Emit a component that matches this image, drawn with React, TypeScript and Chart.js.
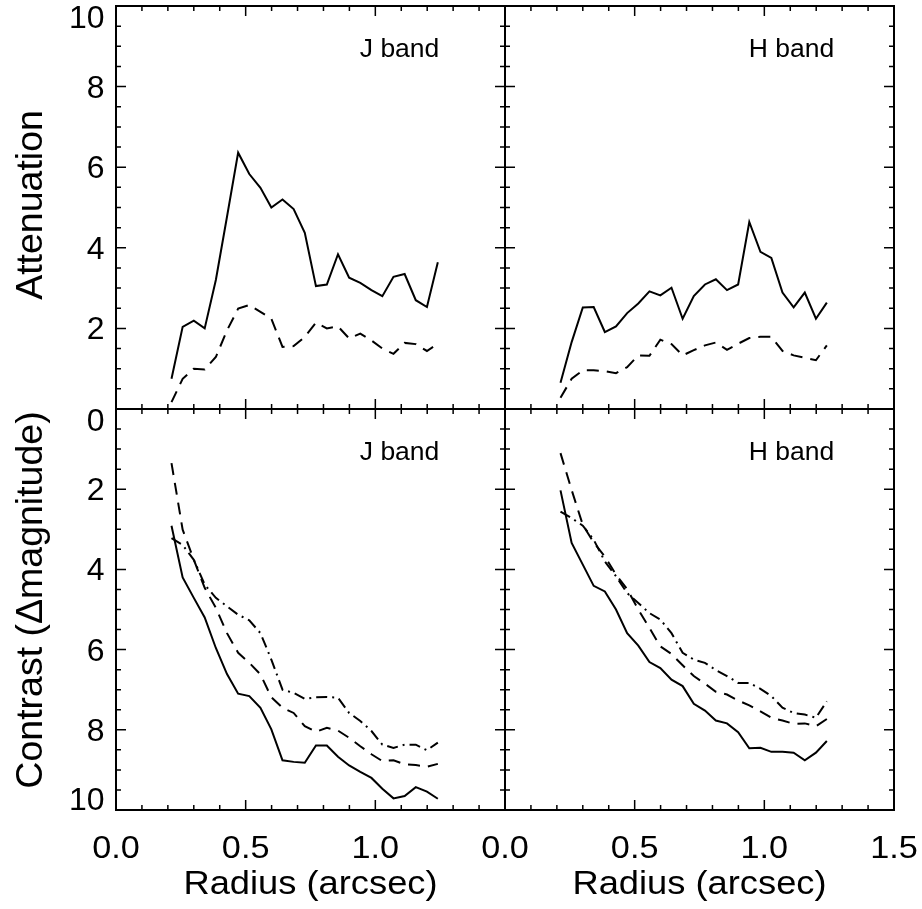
import React, { useEffect, useRef } from 'react';
import { Chart, registerables } from 'chart.js';

Chart.register(...registerables);

// ---------- data ----------
const radius = [0.214, 0.257, 0.300, 0.342, 0.385, 0.428, 0.471, 0.514, 0.557, 0.599, 0.642, 0.685, 0.728, 0.771, 0.813, 0.856, 0.899, 0.942, 0.985, 1.027, 1.070, 1.113, 1.156, 1.199, 1.241];

const jAttenSolid = [0.75, 2.04, 2.19, 2.0, 3.2, 4.77, 6.36, 5.83, 5.49, 5.0, 5.2, 4.96, 4.37, 3.05, 3.09, 3.84, 3.26, 3.13, 2.95, 2.80, 3.28, 3.35, 2.70, 2.53, 3.64];
const jAttenDashed = [0.17, 0.75, 1.0, 0.98, 1.29, 1.95, 2.49, 2.58, 2.41, 2.24, 1.54, 1.56, 1.79, 2.14, 2.0, 2.05, 1.75, 1.87, 1.7, 1.5, 1.37, 1.64, 1.61, 1.44, 1.62];

const hAttenSolid = [0.65, 1.66, 2.52, 2.53, 1.91, 2.05, 2.38, 2.62, 2.92, 2.82, 3.01, 2.24, 2.80, 3.09, 3.22, 2.95, 3.09, 4.64, 3.90, 3.75, 2.89, 2.52, 2.89, 2.24, 2.64];
const hAttenDashed = [0.28, 0.75, 0.96, 0.96, 0.94, 0.89, 1.04, 1.33, 1.32, 1.72, 1.61, 1.33, 1.46, 1.58, 1.65, 1.47, 1.62, 1.76, 1.79, 1.79, 1.44, 1.33, 1.27, 1.21, 1.58];

const jContrastSolid = [2.91, 4.2, 4.71, 5.2, 5.96, 6.61, 7.10, 7.16, 7.45, 7.99, 8.76, 8.80, 8.82, 8.39, 8.39, 8.67, 8.89, 9.05, 9.20, 9.47, 9.71, 9.65, 9.43, 9.54, 9.72];
const jContrastDashed = [1.35, 3.01, 3.76, 4.46, 4.96, 5.59, 6.08, 6.33, 6.62, 7.19, 7.45, 7.58, 7.91, 8.05, 7.95, 8.02, 8.20, 8.41, 8.61, 8.78, 8.76, 8.86, 8.88, 8.92, 8.85];
const jContrastDashDot = [3.22, 3.39, 3.76, 4.38, 4.71, 4.92, 5.13, 5.27, 5.59, 6.25, 7.0, 7.08, 7.23, 7.19, 7.18, 7.20, 7.58, 7.78, 8.03, 8.37, 8.45, 8.37, 8.37, 8.51, 8.32];

const hContrastSolid = [2.03, 3.34, 3.88, 4.41, 4.55, 5.0, 5.59, 5.90, 6.31, 6.46, 6.75, 6.91, 7.35, 7.52, 7.77, 7.84, 8.06, 8.46, 8.45, 8.55, 8.55, 8.57, 8.76, 8.57, 8.28];
const hContrastDashed = [1.10, 2.02, 2.89, 3.33, 3.68, 4.13, 4.49, 5.0, 5.46, 5.92, 6.11, 6.39, 6.66, 6.85, 7.05, 7.12, 7.27, 7.39, 7.54, 7.70, 7.77, 7.85, 7.84, 7.91, 7.73];
const hContrastDashDot = [2.56, 2.72, 2.91, 3.26, 3.80, 4.17, 4.59, 4.84, 5.09, 5.25, 5.59, 6.08, 6.25, 6.33, 6.51, 6.66, 6.83, 6.83, 6.98, 7.16, 7.45, 7.58, 7.62, 7.70, 7.29];

// ---------- ticks ----------
const xMajorTicks = [0, 0.5, 1.0, 1.5];
const xMinorTicks = [0.1, 0.2, 0.3, 0.4, 0.6, 0.7, 0.8, 0.9, 1.1, 1.2, 1.3, 1.4];
const yMajorTicks = [0, 2, 4, 6, 8, 10];
const yMinorTicks = [0.5, 1, 1.5, 2.5, 3, 3.5, 4.5, 5, 5.5, 6.5, 7, 7.5, 8.5, 9, 9.5];

const xTickValuesLeft = [0, 0.5, 1.0];
const xTickLabelsLeft = ['0.0', '0.5', '1.0'];
const xTickValuesRight = [0, 0.5, 1.0, 1.5];
const xTickLabelsRight = ['0.0', '0.5', '1.0', '1.5'];
const yTickValuesTop = [2, 4, 6, 8, 10];
const yTickLabelsTop = ['2', '4', '6', '8', '10'];
const yTickValuesBottom = [0, 2, 4, 6, 8, 10];
const yTickLabelsBottom = ['0', '2', '4', '6', '8', '10'];

const FONT = "'Liberation Sans', Arial, Helvetica, sans-serif";
const SOLID: number[] = [];
const DASHED = [12, 8];
const DASHDOT = [11, 5, 2, 5];

type Series = { values: number[]; dash: number[] };
type Panel = {
  padding: { left: number; right: number; top: number; bottom: number };
  reverse: boolean;
  series: Series[];
  band: string;
  yTicks?: { values: number[]; labels: string[] };
  xTicks?: { values: number[]; labels: string[] };
  yTitle?: string;
  yTitleCenter?: number;
  xTitle?: string;
};

const panels: Panel[] = [
  {
    padding: { left: 116, right: 417, top: 6, bottom: 500 },
    reverse: false,
    series: [
      { values: jAttenSolid, dash: SOLID },
      { values: jAttenDashed, dash: DASHED },
    ],
    band: 'J band',
    yTicks: { values: yTickValuesTop, labels: yTickLabelsTop },
    yTitle: 'Attenuation',
    yTitleCenter: 205,
  },
  {
    padding: { left: 505, right: 28, top: 6, bottom: 500 },
    reverse: false,
    series: [
      { values: hAttenSolid, dash: SOLID },
      { values: hAttenDashed, dash: DASHED },
    ],
    band: 'H band',
  },
  {
    padding: { left: 116, right: 417, top: 409, bottom: 99 },
    reverse: true,
    series: [
      { values: jContrastSolid, dash: SOLID },
      { values: jContrastDashed, dash: DASHED },
      { values: jContrastDashDot, dash: DASHDOT },
    ],
    band: 'J band',
    yTicks: { values: yTickValuesBottom, labels: yTickLabelsBottom },
    xTicks: { values: xTickValuesLeft, labels: xTickLabelsLeft },
    yTitle: 'Contrast (\u0394magnitude)',
    yTitleCenter: 600,
    xTitle: 'Radius (arcsec)',
  },
  {
    padding: { left: 505, right: 28, top: 409, bottom: 99 },
    reverse: true,
    series: [
      { values: hContrastSolid, dash: SOLID },
      { values: hContrastDashed, dash: DASHED },
      { values: hContrastDashDot, dash: DASHDOT },
    ],
    band: 'H band',
    xTicks: { values: xTickValuesRight, labels: xTickLabelsRight },
    xTitle: 'Radius (arcsec)',
  },
];

function drawText(
  ctx: CanvasRenderingContext2D,
  text: string,
  x: number,
  y: number,
  size: number,
  align: CanvasTextAlign,
  scaleX = 1,
  rotate = 0
) {
  ctx.save();
  ctx.translate(x, y);
  if (rotate) ctx.rotate(rotate);
  ctx.scale(scaleX, 1);
  ctx.font = `${size}px ${FONT}`;
  ctx.fillStyle = '#000';
  ctx.textAlign = align;
  ctx.textBaseline = 'alphabetic';
  ctx.fillText(text, 0, 0);
  ctx.restore();
}

function makeFramePlugin(panel: Panel) {
  return {
    id: 'frameTicks',
    afterDraw(chart: any) {
      const ctx: CanvasRenderingContext2D = chart.ctx;
      const xs = chart.scales.x;
      const ys = chart.scales.y;
      const { left, right, top, bottom } = chart.chartArea;
      ctx.save();
      ctx.strokeStyle = '#000';
      // ticks
      ctx.lineWidth = 1.5;
      const xTick = (v: number, len: number) => {
        const px = xs.getPixelForValue(v);
        ctx.beginPath();
        ctx.moveTo(px, bottom);
        ctx.lineTo(px, bottom - len);
        ctx.moveTo(px, top);
        ctx.lineTo(px, top + len);
        ctx.stroke();
      };
      const yTick = (v: number, len: number) => {
        const py = ys.getPixelForValue(v);
        ctx.beginPath();
        ctx.moveTo(left, py);
        ctx.lineTo(left + len, py);
        ctx.moveTo(right, py);
        ctx.lineTo(right - len, py);
        ctx.stroke();
      };
      xMajorTicks.forEach((v) => xTick(v, 10));
      xMinorTicks.forEach((v) => xTick(v, 5));
      yMajorTicks.forEach((v) => yTick(v, 10));
      yMinorTicks.forEach((v) => yTick(v, 5));
      // frame
      ctx.lineWidth = 2;
      ctx.strokeRect(left, top, right - left, bottom - top);
      ctx.restore();

      // band label
      drawText(ctx, panel.band, xs.getPixelForValue(0.94), top + 51, 26.5, 'left');

      // y tick labels
      if (panel.yTicks) {
        const size = 31;
        const cap = size * 0.716;
        panel.yTicks.values.forEach((v, i) => {
          let cy = ys.getPixelForValue(v);
          cy = Math.max(top + cap / 2, Math.min(bottom - cap / 2, cy));
          drawText(ctx, panel.yTicks!.labels[i], left - 11.5, cy + cap / 2, size, 'right', 1.03);
        });
      }
      // x tick labels
      if (panel.xTicks) {
        panel.xTicks.values.forEach((v, i) => {
          drawText(ctx, panel.xTicks!.labels[i], xs.getPixelForValue(v), bottom + 48, 32, 'center', 1.07);
        });
      }
      if (panel.xTitle) {
        drawText(ctx, panel.xTitle, (left + right) / 2, bottom + 84, 33, 'center', 1.1);
      }
      if (panel.yTitle) {
        drawText(ctx, panel.yTitle, 42, panel.yTitleCenter || (top + bottom) / 2, 37.5, 'center', 1, -Math.PI / 2);
      }
    },
  };
}

function PanelChart({ panel }: { panel: Panel }) {
  const ref = useRef<HTMLCanvasElement | null>(null);
  useEffect(() => {
    if (!ref.current) return;
    const chart = new Chart(ref.current, {
      type: 'line',
      data: {
        datasets: panel.series.map((s) => ({
          data: radius.map((x, i) => ({ x, y: s.values[i] })),
          borderColor: '#000',
          backgroundColor: '#000',
          borderWidth: 2,
          borderDash: s.dash,
          pointRadius: 0,
          fill: false,
          tension: 0,
        })),
      },
      options: {
        responsive: false,
        animation: false,
        events: [],
        layout: { padding: panel.padding },
        plugins: { legend: { display: false }, tooltip: { enabled: false } },
        scales: {
          x: { type: 'linear', min: 0, max: 1.5, display: false },
          y: { type: 'linear', min: 0, max: 10, reverse: panel.reverse, display: false },
        },
      },
      plugins: [makeFramePlugin(panel)],
    } as any);
    return () => chart.destroy();
  }, [panel]);
  return (
    <canvas
      ref={ref}
      width={922}
      height={909}
      style={{ position: 'absolute', left: 0, top: 0, width: 922, height: 909 }}
    />
  );
}

export default function App() {
  return (
    <div style={{ position: 'absolute', left: 0, top: 0, width: 922, height: 909, background: '#fff', overflow: 'hidden' }}>
      {panels.map((p, i) => (
        <PanelChart key={i} panel={p} />
      ))}
    </div>
  );
}
